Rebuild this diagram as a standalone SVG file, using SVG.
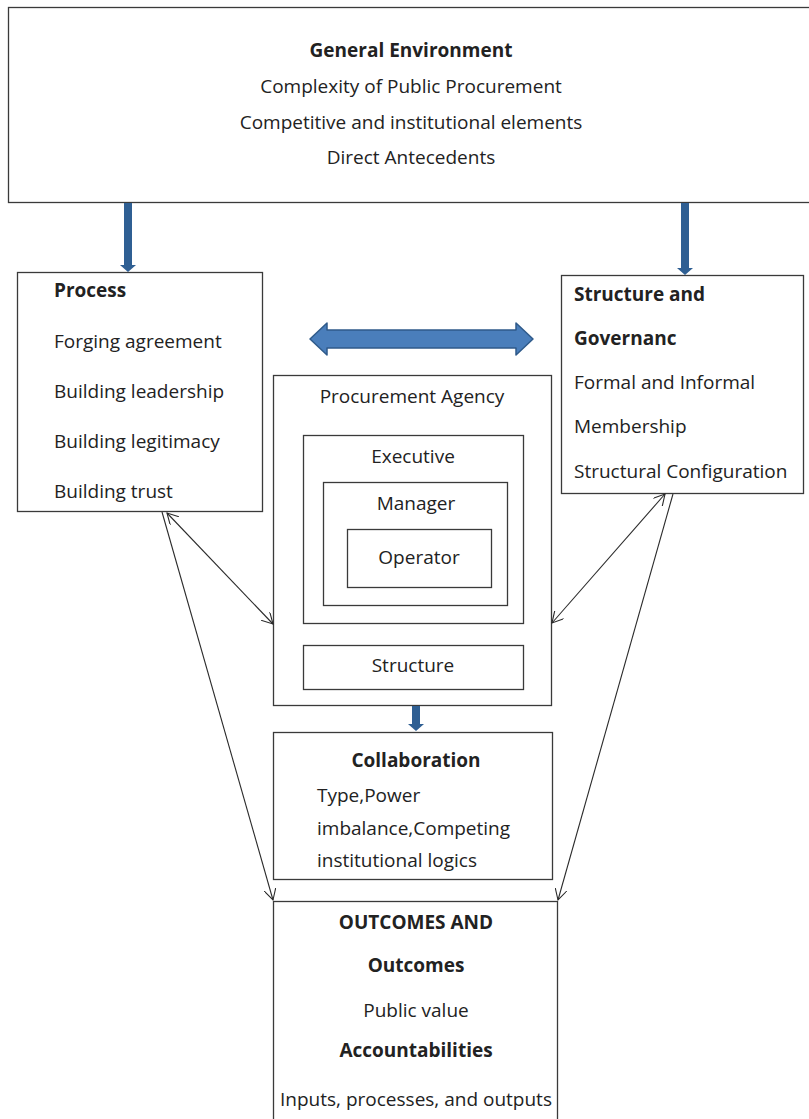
<svg xmlns="http://www.w3.org/2000/svg" width="809" height="1119" viewBox="0 0 809 1119">
  <style>
    .box { fill: #ffffff; stroke: #3a3a3a; stroke-width: 1.3; }
    .t { font-family: "Open Sans", "Liberation Sans", sans-serif; font-size: 19px; fill: #222222; }
    .b { font-weight: bold; }
    .c { text-anchor: middle; }
    .thin { fill: none; stroke: #2a2a2a; stroke-width: 1.1; }
    .blue { fill: #2f5f93; }
  </style>
  <defs>
    <marker id="vee" viewBox="0 0 12 12" refX="11" refY="6" markerWidth="12" markerHeight="12" markerUnits="userSpaceOnUse" orient="auto-start-reverse">
      <path d="M0,0 L11,6 L0,12" fill="none" stroke="#2a2a2a" stroke-width="1.1"/>
    </marker>
  </defs>

  <rect width="809" height="1119" fill="#ffffff"/>

  <!-- General environment -->
  <g id="general-environment">
    <rect class="box" x="8.5" y="7.5" width="810" height="195"/>
    <text class="t b c" x="411" y="57">General Environment</text>
    <text class="t c" x="411" y="93">Complexity of Public Procurement</text>
    <text class="t c" x="411" y="129">Competitive and institutional elements</text>
    <text class="t c" x="411" y="164">Direct Antecedents</text>
  </g>

  <!-- Process -->
  <g id="process">
    <rect class="box" x="17.5" y="272.5" width="245" height="239"/>
    <text class="t b" x="54" y="297">Process</text>
    <text class="t" x="54" y="348">Forging agreement</text>
    <text class="t" x="54" y="398">Building leadership</text>
    <text class="t" x="54" y="448">Building legitimacy</text>
    <text class="t" x="54" y="498">Building trust</text>
  </g>

  <!-- Structure and governance -->
  <g id="structure-governance">
    <rect class="box" x="561.5" y="275.5" width="242" height="218"/>
    <text class="t b" x="574" y="301">Structure and</text>
    <text class="t b" x="574" y="345">Governanc</text>
    <text class="t" x="574" y="389">Formal and Informal</text>
    <text class="t" x="574" y="433">Membership</text>
    <text class="t" x="574" y="478">Structural Configuration</text>
  </g>

  <!-- Procurement agency with nested levels -->
  <g id="procurement-agency">
    <rect class="box" x="273.5" y="375.5" width="278" height="330"/>
    <text class="t c" x="412" y="403">Procurement Agency</text>
    <g id="executive">
      <rect class="box" x="303.5" y="435.5" width="220" height="188"/>
      <text class="t c" x="413" y="463">Executive</text>
    </g>
    <g id="manager">
      <rect class="box" x="323.5" y="482.5" width="184" height="123"/>
      <text class="t c" x="416" y="510">Manager</text>
    </g>
    <g id="operator">
      <rect class="box" x="347.5" y="529.5" width="144" height="58"/>
      <text class="t c" x="419" y="564">Operator</text>
    </g>
    <g id="structure">
      <rect class="box" x="303.5" y="645.5" width="220" height="44"/>
      <text class="t c" x="413" y="672">Structure</text>
    </g>
  </g>

  <!-- Collaboration -->
  <g id="collaboration">
    <rect class="box" x="273.5" y="732.5" width="279" height="147"/>
    <text class="t b c" x="416" y="767">Collaboration</text>
    <text class="t" x="317" y="802">Type,Power</text>
    <text class="t" x="317" y="835">imbalance,Competing</text>
    <text class="t" x="317" y="867">institutional logics</text>
  </g>

  <!-- Outcomes and accountabilities -->
  <g id="outcomes">
    <rect class="box" x="273.5" y="901.5" width="284" height="240"/>
    <text class="t b c" x="416" y="929">OUTCOMES AND</text>
    <text class="t b c" x="416" y="972">Outcomes</text>
    <text class="t c" x="416" y="1017">Public value</text>
    <text class="t b c" x="416" y="1057">Accountabilities</text>
    <text class="t c" x="416" y="1106">Inputs, processes, and outputs</text>
  </g>

  <!-- Connectors -->
  <g id="connectors">
    <!-- block arrows -->
    <path class="blue" d="M124,203 H132 V265 H136 L128,272 L120,265 H124 Z"/>
    <path class="blue" d="M681,203 H689 V268 H693 L685,275 L677,268 H681 Z"/>
    <path class="blue" d="M412,706 H420 V724 H424 L416,731 L408,724 H412 Z"/>
    <path d="M310,339 L327,323 V330 H516 V323 L533,339 L516,355 V348 H327 V355 Z" fill="#4a7ebb" stroke="#2f5a8a" stroke-width="1.5" stroke-linejoin="round"/>

    <!-- thin links -->
    <line class="thin" x1="167" y1="513" x2="273" y2="624" marker-start="url(#vee)" marker-end="url(#vee)"/>
    <line class="thin" x1="162" y1="512" x2="273" y2="900" marker-end="url(#vee)"/>
    <line class="thin" x1="665" y1="494" x2="552" y2="623" marker-start="url(#vee)" marker-end="url(#vee)"/>
    <line class="thin" x1="673" y1="494" x2="558" y2="900" marker-end="url(#vee)"/>
  </g>
</svg>
